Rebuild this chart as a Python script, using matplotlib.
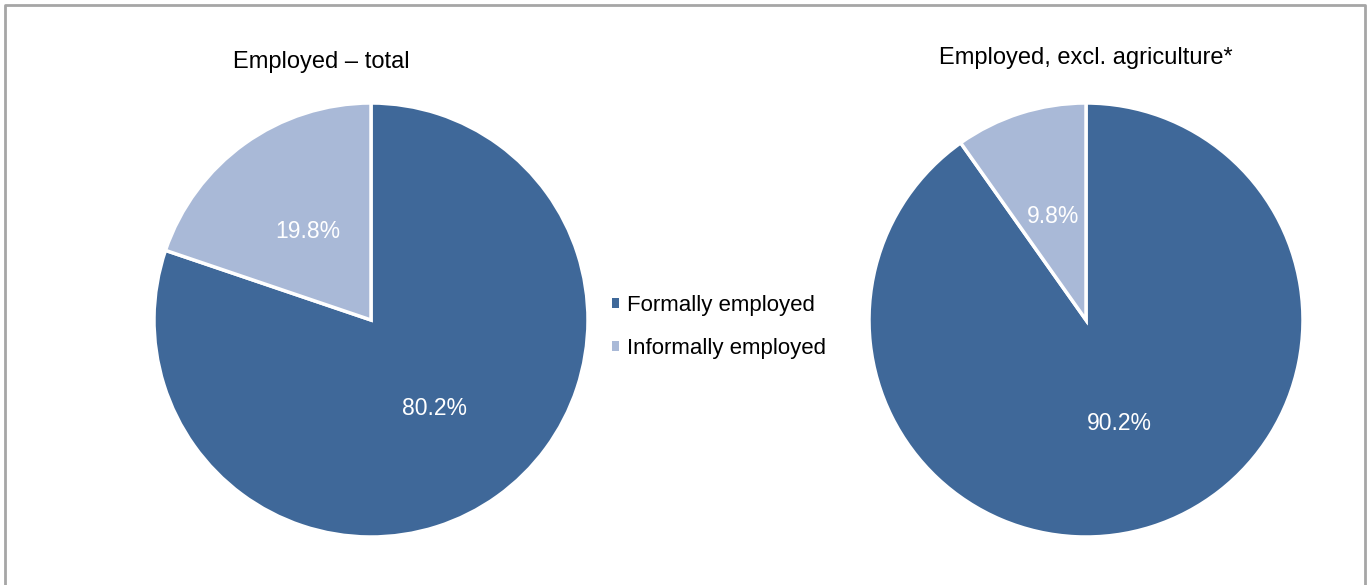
import matplotlib.pyplot as plt
from matplotlib.lines import Line2D

plt.rcParams['font.family'] = ['Liberation Sans', 'DejaVu Sans']

labels = ['Formally employed', 'Informally employed']
total = [80.2, 19.8]
excl_agri = [90.2, 9.8]
titles = ['Employed \u2013 total', 'Employed, excl. agriculture*']
colors = ['#3F6899', '#A9B9D7']

W, H = 1371, 585
fig = plt.figure(figsize=(W / 100, H / 100), dpi=100)


def px_axes(cx, cy, r):
    return fig.add_axes([(cx - r) / W, (H - cy - r) / H, 2 * r / W, 2 * r / H])


wedges = None
for vals, (cx, cy), title, (tx, ty) in zip(
        [total, excl_agri], [(371, 320), (1086, 320)], titles,
        [(321, 62), (1086, 58)]):
    ax = px_axes(cx, cy, 217)
    w, _, autotexts = ax.pie(vals, colors=colors, startangle=90, counterclock=False,
                             autopct='%.1f%%', pctdistance=0.5, radius=1,
                             wedgeprops=dict(edgecolor='white', linewidth=2.5))
    for t in autotexts:
        t.set_color('white')
        t.set_fontsize(16.5)
    ax.set_xlim(-1, 1)
    ax.set_ylim(-1, 1)
    ax.set_aspect('equal')
    ax.axis('off')
    fig.text(tx / W, 1 - ty / H, title, ha='center', va='center', fontsize=17)
    if wedges is None:
        wedges = w

leg = fig.legend(wedges, labels, loc='center left', bbox_to_anchor=(592 / W, 1 - 327 / H),
                 frameon=False, handlelength=0.32, handleheight=0.32, handletextpad=0.34,
                 labelspacing=0.95, fontsize=16)
for h in leg.legend_handles:
    h.set_linewidth(0)

# frame around the chart (bottom edge is cut off)
fig.add_artist(Line2D([5 / W, 5 / W, 1365 / W, 1365 / W],
                      [0, 1 - 5 / H, 1 - 5 / H, 0],
                      color='#a6a6a6', linewidth=2, transform=fig.transFigure))

fig.savefig('out.png', dpi=100)
